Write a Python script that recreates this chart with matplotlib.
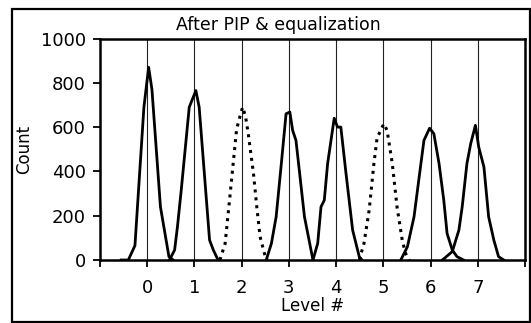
import matplotlib
matplotlib.use("Agg")
import matplotlib.pyplot as plt
from matplotlib.patches import Rectangle

# ---- data (offset from level centre, count) ----
levels = [0, 1, 2, 3, 4, 5, 6, 7]
dotted_levels = [2, 5]

off_0 = [-0.55, -0.40, -0.26, -0.07, 0.03, 0.10, 0.28, 0.46, 0.55]
cnt_0 = [0, 0, 65, 690, 870, 770, 240, 15, 0]

off_1 = [-0.53, -0.42, -0.36, -0.28, -0.11, 0.03, 0.10, 0.32, 0.40, 0.50]
cnt_1 = [0, 45, 150, 315, 690, 765, 690, 90, 45, 0]

off_2 = [-0.46, -0.35, -0.25, -0.18, -0.11, -0.07, 0.02, 0.08, 0.14, 0.25, 0.32, 0.39, 0.50, 0.55]
cnt_2 = [0, 75, 285, 435, 585, 622, 690, 650, 570, 390, 240, 105, 15, 0]

off_3 = [-0.48, -0.37, -0.27, -0.16, -0.06, 0.02, 0.08, 0.15, 0.33, 0.51]
cnt_3 = [0, 75, 195, 435, 660, 668, 585, 540, 195, 0]

off_4 = [-0.49, -0.39, -0.32, -0.25, -0.18, -0.04, 0.03, 0.10, 0.21, 0.35, 0.49, 0.55]
cnt_4 = [0, 75, 240, 270, 435, 640, 600, 600, 390, 135, 15, 0]

off_5 = [-0.51, -0.41, -0.30, -0.20, -0.13, -0.09, 0.01, 0.08, 0.19, 0.29, 0.40, 0.47, 0.55]
cnt_5 = [0, 75, 225, 435, 555, 570, 615, 585, 435, 240, 90, 30, 0]

off_6 = [-0.63, -0.49, -0.35, -0.25, -0.14, -0.02, 0.07, 0.18, 0.28, 0.35, 0.46, 0.56, 0.70]
cnt_6 = [0, 60, 195, 360, 540, 595, 570, 435, 270, 120, 45, 15, 0]

off_7 = [-0.75, -0.54, -0.40, -0.33, -0.23, -0.15, -0.05, 0.02, 0.13, 0.23, 0.34, 0.44, 0.55]
cnt_7 = [0, 38, 135, 240, 435, 525, 608, 510, 420, 195, 90, 15, 0]

offsets = [off_0, off_1, off_2, off_3, off_4, off_5, off_6, off_7]
counts = [cnt_0, cnt_1, cnt_2, cnt_3, cnt_4, cnt_5, cnt_6, cnt_7]

x_ticks = [-1, 0, 1, 2, 3, 4, 5, 6, 7, 8]
x_tick_labels = ["", "0", "1", "2", "3", "4", "5", "6", "7", ""]
y_ticks = [0, 200, 400, 600, 800, 1000]

title = "After PIP & equalization"
xlabel = "Level #"
ylabel = "Count"

# ---- figure ----
W, H = 531, 323
fig = plt.figure(figsize=(W / 100, H / 100), dpi=100)
plt.rcParams['font.family'] = ['DejaVu Sans']

ax = fig.add_axes([100 / W, 1 - 260 / H, 425 / W, (260 - 38.5) / H])

for lv in levels:
    ax.axvline(lv, color="#222222", lw=0.8, zorder=1)

for lv, off, cnt in zip(levels, offsets, counts):
    xs = [lv + o for o in off]
    if lv in dotted_levels:
        ax.plot(xs, cnt, color="black", lw=2.2, linestyle=(0, (1, 1.6)), zorder=3)
    else:
        ax.plot(xs, cnt, color="black", lw=2.0, zorder=3, solid_joinstyle="round")

ax.set_xlim(-1, 8)
ax.set_ylim(0, 1000)
ax.set_xticks(x_ticks)
ax.set_xticklabels(x_tick_labels)
ax.set_yticks(y_ticks)

for s in ax.spines.values():
    s.set_linewidth(1.8)
    s.set_color("black")

ax.tick_params(axis="x", direction="out", length=5, width=1.3, pad=9, labelsize=13)
ax.tick_params(axis="y", direction="out", length=5, width=1.3, pad=5, labelsize=13)

ax.set_xlabel(xlabel, fontsize=12)
ax.xaxis.set_label_coords(0.5, -0.165)
ax.set_ylabel(ylabel, fontsize=12)
ax.yaxis.set_label_coords(-0.158, 0.5)

fig.text(278 / W, 1 - 24.5 / H, title, ha="center", va="center", fontsize=12.5)

fig.add_artist(Rectangle((12 / W, 1 - 321.5 / H), (530 - 12) / W, (321.5 - 9) / H,
                         transform=fig.transFigure, fill=False, edgecolor="black", lw=1.6))

fig.savefig("out.png", dpi=100)
